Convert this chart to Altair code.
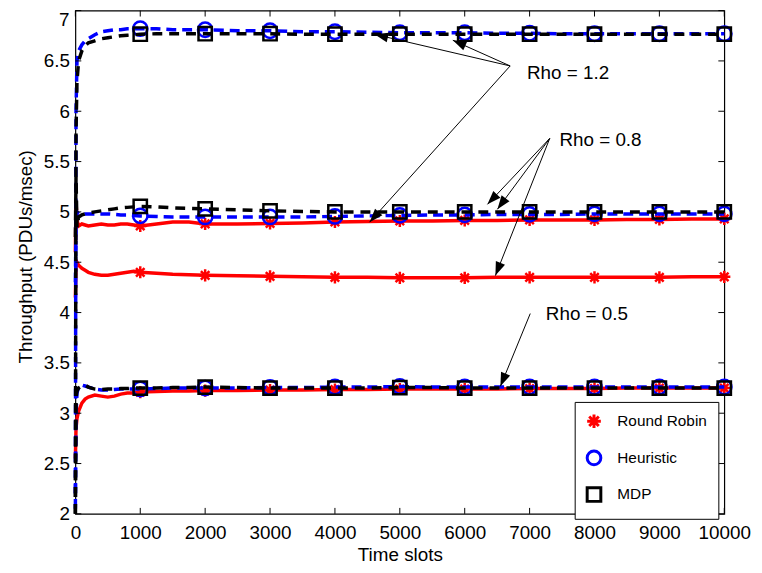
import math
import pandas as pd
import altair as alt

# ---------------- data ----------------
times = [0, 10, 25, 50, 100, 150, 200, 300, 400, 500, 600, 700, 800, 900, 1000,
         1250, 1500, 1750, 2000, 2500, 3000, 3500, 4000, 4500, 5000, 5500, 6000,
         6500, 7000, 7500, 8000, 8500, 9000, 9500, 10000]

rr_05 = [2.55, 2.85, 2.95, 3.02, 3.10, 3.14, 3.16, 3.18, 3.17, 3.16, 3.17, 3.19, 3.20, 3.20, 3.21,
         3.215, 3.22, 3.22, 3.225, 3.225, 3.23, 3.23, 3.235, 3.235, 3.24, 3.24, 3.24,
         3.24, 3.245, 3.245, 3.245, 3.25, 3.25, 3.25, 3.25]
heur_05 = [2.05, 3.00, 3.20, 3.26, 3.28, 3.27, 3.26, 3.24, 3.23, 3.23, 3.235, 3.24, 3.24, 3.24, 3.24,
           3.245, 3.25, 3.25, 3.25, 3.25, 3.255, 3.255, 3.26, 3.26, 3.265, 3.26, 3.26,
           3.26, 3.26, 3.26, 3.26, 3.26, 3.26, 3.26, 3.26]
mdp_05 = [2.00, 3.15, 3.22, 3.25, 3.27, 3.28, 3.26, 3.24, 3.235, 3.24, 3.24, 3.245, 3.245, 3.25, 3.25,
          3.25, 3.255, 3.255, 3.26, 3.255, 3.25, 3.25, 3.25, 3.25, 3.255, 3.255, 3.25,
          3.25, 3.25, 3.25, 3.25, 3.25, 3.25, 3.25, 3.25]

rr_08 = [4.15, 4.45, 4.50, 4.47, 4.44, 4.42, 4.40, 4.38, 4.37, 4.37, 4.38, 4.39, 4.40, 4.41, 4.40,
         4.39, 4.38, 4.375, 4.37, 4.365, 4.36, 4.355, 4.35, 4.35, 4.345, 4.345, 4.345,
         4.35, 4.35, 4.35, 4.35, 4.35, 4.35, 4.355, 4.355]
heur_08 = [4.30, 4.85, 5.00, 4.98, 4.97, 4.98, 4.98, 4.98, 4.98, 4.98, 4.975, 4.97, 4.97, 4.965, 4.96,
           4.955, 4.95, 4.95, 4.95, 4.95, 4.95, 4.95, 4.955, 4.96, 4.965, 4.97, 4.97,
           4.975, 4.975, 4.975, 4.98, 4.98, 4.98, 4.98, 4.98]
mdp_08 = [4.75, 5.35, 4.85, 4.95, 4.97, 4.98, 4.99, 5.00, 5.01, 5.02, 5.03, 5.04, 5.045, 5.05, 5.055,
          5.05, 5.04, 5.035, 5.03, 5.02, 5.01, 5.005, 5.00, 5.00, 5.00, 5.00, 5.00,
          5.00, 5.00, 5.00, 5.00, 5.00, 5.00, 5.00, 5.00]

rr_12 = [4.60, 5.10, 4.92, 4.86, 4.88, 4.87, 4.86, 4.87, 4.88, 4.87, 4.87, 4.88, 4.88, 4.87, 4.86,
         4.88, 4.90, 4.90, 4.88, 4.88, 4.885, 4.89, 4.90, 4.905, 4.91, 4.91, 4.915,
         4.915, 4.92, 4.92, 4.92, 4.925, 4.925, 4.93, 4.93]
heur_12 = [2.20, 6.00, 6.50, 6.60, 6.66, 6.70, 6.72, 6.76, 6.79, 6.80, 6.81, 6.81, 6.82, 6.82, 6.82,
           6.82, 6.81, 6.81, 6.81, 6.80, 6.80, 6.79, 6.79, 6.785, 6.78, 6.78, 6.78,
           6.775, 6.775, 6.77, 6.77, 6.77, 6.77, 6.77, 6.77]
mdp_12 = [2.00, 5.80, 6.30, 6.50, 6.60, 6.65, 6.68, 6.70, 6.72, 6.73, 6.74, 6.75, 6.755, 6.76, 6.765,
          6.77, 6.77, 6.77, 6.77, 6.77, 6.77, 6.765, 6.765, 6.765, 6.765, 6.765, 6.765,
          6.765, 6.765, 6.765, 6.765, 6.765, 6.765, 6.765, 6.765]

methods = ["Round Robin", "Heuristic", "MDP"]
series = [
    ("Round Robin", "0.5", rr_05), ("Round Robin", "0.8", rr_08), ("Round Robin", "1.2", rr_12),
    ("Heuristic", "0.5", heur_05), ("Heuristic", "0.8", heur_08), ("Heuristic", "1.2", heur_12),
    ("MDP", "0.5", mdp_05), ("MDP", "0.8", mdp_08), ("MDP", "1.2", mdp_12),
]

x_ticks = [0, 1000, 2000, 3000, 4000, 5000, 6000, 7000, 8000, 9000, 10000]
y_ticks = [2, 2.5, 3, 3.5, 4, 4.5, 5, 5.5, 6, 6.5, 7]

# annotations (data coordinates): label, label position, arrow source, arrow tips
ann_labels = ["Rho = 1.2", "Rho = 0.8", "Rho = 0.5"]
ann_label_x = [6960, 7460, 7250]
ann_label_y = [6.38, 5.71, 3.99]
arrow_src_x = [6700, 6700, 6700, 7310, 7310, 7310, 7010]
arrow_src_y = [6.45, 6.45, 6.45, 5.73, 5.73, 5.73, 3.99]
arrow_tip_x = [4610, 5817, 4534, 6351, 6504, 6473, 6550]
arrow_tip_y = [6.764, 6.705, 4.898, 5.075, 5.026, 4.367, 3.267]

# ---------------- layout constants ----------------
W, H = 655, 508
FONT = "Liberation Sans"
ASTERISK = "M-1,0L1,0M0,-1L0,1M-0.7,-0.7L0.7,0.7M-0.7,0.7L0.7,-0.7"
ARROW = "M0,0L-0.36,1L0.36,1Z"

rows = []
for m, rho, vals in series:
    for t, v in zip(times, vals):
        rows.append({"method": m, "rho": rho, "t": t, "v": v})
df = pd.DataFrame(rows)

ang = []
for sx, sy, tx, ty in zip(arrow_src_x, arrow_src_y, arrow_tip_x, arrow_tip_y):
    dx = (tx - sx) * W / 10000.0
    dy = -(ty - sy) * H / 5.0
    ang.append(math.degrees(math.atan2(dx, -dy)) % 360)
arrows = pd.DataFrame({"sx": arrow_src_x, "sy": arrow_src_y, "tx": arrow_tip_x,
                       "ty": arrow_tip_y, "ang": ang})
labels = pd.DataFrame({"x": ann_label_x, "y": ann_label_y, "label": ann_labels})

xs = alt.Scale(domain=[0, 10000], nice=False, zero=False)
ys = alt.Scale(domain=[2, 7], nice=False, zero=False)

x_axis = alt.Axis(values=x_ticks, format="d", ticks=False, tickSize=0, domain=False, grid=False,
                  labelFont=FONT, labelFontSize=19, labelColor="black",
                  labelBaseline="alphabetic", labelPadding=25,
                  labelFlush=False, labelOverlap=False,
                  title="Time slots", titleFont=FONT, titleFontSize=19, titleFontWeight="normal",
                  titleColor="black", titleBaseline="alphabetic", titleY=47)
# the top label ("7") is drawn as a text mark so it is not clipped at the page edge
y_axis = alt.Axis(values=y_ticks[:-1], format="~g", ticks=False, tickSize=0, domain=False, grid=False,
                  labelFont=FONT, labelFontSize=19, labelColor="black", labelPadding=6,
                  labelFlush=False, labelOverlap=False,
                  title="Throughput (PDUs/msec)", titleFont=FONT, titleFontSize=19,
                  titleFontWeight="normal", titleColor="black", titleBaseline="alphabetic",
                  titleX=-44, titleY=248)


def X(field):
    return alt.X(field, scale=xs, axis=x_axis)


def Y(field):
    return alt.Y(field, scale=ys, axis=y_axis)


legend = alt.Legend(orient="none", legendX=504, legendY=395, fillColor="white",
                    strokeColor="black", padding=11, rowPadding=10, labelOffset=15,
                    labelFont=FONT, labelFontSize=15.5, labelColor="black",
                    symbolSize=190, symbolStrokeWidth=3, title=None)
color_enc = alt.Color("method:N", scale=alt.Scale(domain=methods, range=["red", "blue", "black"]),
                      legend=legend, title=None)
shape_enc = alt.Shape("method:N", scale=alt.Scale(domain=methods, range=[ASTERISK, "circle", "square"]),
                      legend=legend, title=None)

base = alt.Chart(df)


def line_layer(m, color, dash):
    mk = dict(color=color, strokeWidth=3.5)
    if dash:
        mk["strokeDash"] = dash
    return base.transform_filter(alt.datum.method == m).mark_line(**mk).encode(
        x=X("t:Q"), y=Y("v:Q"), detail="rho:N",
    )


def point_layer(m, size):
    return base.transform_filter(
        (alt.datum.method == m) & (alt.datum.t > 0) & (alt.datum.t % 1000 == 0)
    ).mark_point(filled=False, size=size, strokeWidth=2.5, opacity=1).encode(
        x=X("t:Q"), y=Y("v:Q"), color=color_enc, shape=shape_enc,
    )


xt = pd.DataFrame({"t": x_ticks})
yt = pd.DataFrame({"v": y_ticks})
tick_top = alt.Chart(xt).mark_rule(color="black", strokeWidth=1).encode(
    x=X("t:Q"), y=alt.value(0), y2=alt.value(6))
tick_bot = alt.Chart(xt).mark_rule(color="black", strokeWidth=1).encode(
    x=X("t:Q"), y=alt.value(H - 6), y2=alt.value(H))
tick_left = alt.Chart(yt).mark_rule(color="black", strokeWidth=1).encode(
    y=Y("v:Q"), x=alt.value(0), x2=alt.value(6))
tick_right = alt.Chart(yt).mark_rule(color="black", strokeWidth=1).encode(
    y=Y("v:Q"), x=alt.value(W - 6), x2=alt.value(W))

top_label = alt.Chart(pd.DataFrame({"v": [y_ticks[-1]], "lab": ["7"]})).mark_text(
    align="right", baseline="top", dx=-6, dy=1, font=FONT, fontSize=19, color="black"
).encode(x=alt.value(0), y=Y("v:Q"), text="lab:N")

arrow_lines = alt.Chart(arrows).mark_rule(color="black", strokeWidth=1).encode(
    x=X("sx:Q"), y=Y("sy:Q"), x2="tx:Q", y2="ty:Q")
arrow_heads = alt.Chart(arrows).mark_point(shape=ARROW, filled=True, color="black", opacity=1,
                                           size=760, strokeWidth=0).encode(
    x=X("tx:Q"), y=Y("ty:Q"), angle=alt.Angle("ang:Q", scale=None))
ann_text = alt.Chart(labels).mark_text(align="left", baseline="middle", font=FONT, fontSize=19,
                                       color="black").encode(
    x=X("x:Q"), y=Y("y:Q"), text="label:N")

chart = alt.layer(
    line_layer("Round Robin", "red", None),
    point_layer("Round Robin", 150),
    line_layer("Heuristic", "blue", [10, 6]),
    point_layer("Heuristic", 210),
    line_layer("MDP", "black", [10, 7]),
    point_layer("MDP", 180),
    tick_top, tick_bot, tick_left, tick_right, top_label,
    arrow_lines, arrow_heads, ann_text,
).properties(
    width=W, height=H,
    autosize=alt.AutoSizeParams(type="none"),
    padding={"left": 68, "top": 0, "right": 30, "bottom": 48},
).configure_view(stroke="black", strokeWidth=1.2)

chart.save("out.html", embed_options={"renderer": "svg", "actions": False})
